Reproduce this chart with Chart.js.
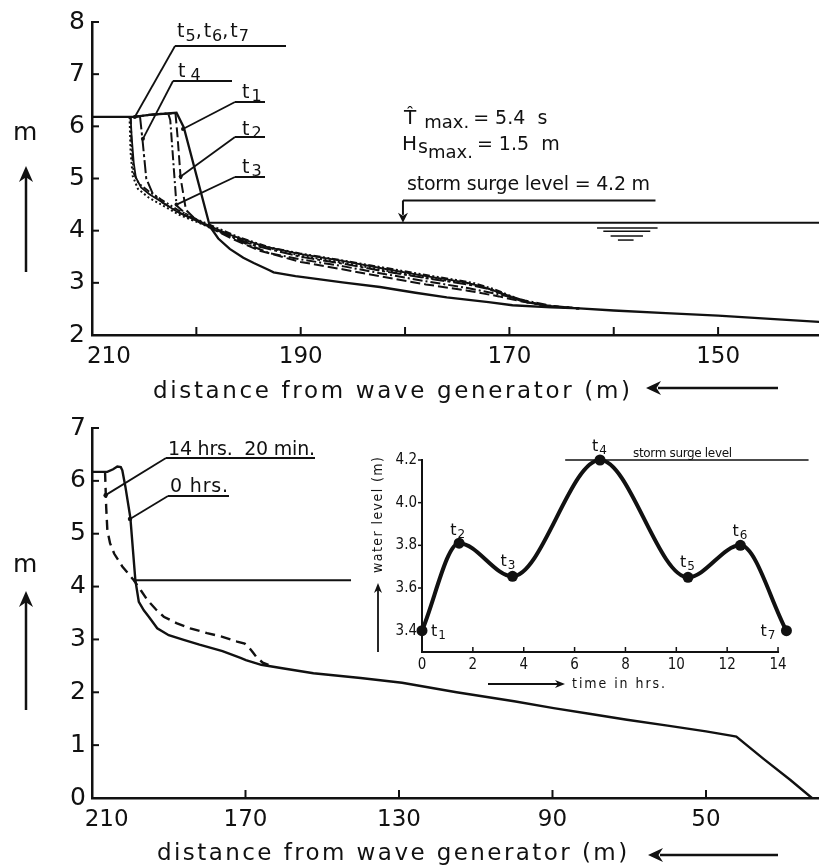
<!DOCTYPE html>
<html>
<head>
<meta charset="utf-8">
<title>Dune erosion profiles</title>
<script src="https://cdn.jsdelivr.net/npm/chart.js@4.4.1/dist/chart.umd.min.js"></script>
<style>
  html, body { margin:0; padding:0; background:#fff; }
  #wrap { position:relative; width:819px; height:867px; overflow:hidden; background:#fff; }
  canvas { position:absolute; }
</style>
</head>
<body>
<div id="wrap">
  <canvas id="topChart" width="819" height="420" style="left:0;top:0"></canvas>
  <canvas id="bottomChart" width="819" height="467" style="left:0;top:400px"></canvas>
  <canvas id="insetChart" width="459" height="280" style="left:360px;top:430px"></canvas>
</div>
<script>
// ================= DATA =================
// Top panel: profiles t1..t7 (distance from wave generator [m], level [m])
const topXTicks = [150, 160, 170, 180, 190, 200, 210];
const topXTickLabels = ['150', '', '170', '', '190', '', '\u2007\u2007\u2009210'];
const topYTicks = [2, 3, 4, 5, 6, 7, 8];

const t1X = [210, 206.0, 204.5, 201.9, 201.2, 198.7, 197.9, 196.8, 195.5, 194.5, 193.0, 192.6, 190.5, 189.4, 186.0, 182.4, 179.0, 176.0, 172.0, 169.7, 166.0, 163.3, 160.0, 155.0, 150.0, 145.0, 140.3];
const t1Y = [6.18, 6.18, 6.22, 6.26, 5.98, 4.08, 3.85, 3.65, 3.48, 3.38, 3.24, 3.20, 3.13, 3.10, 3.01, 2.92, 2.81, 2.72, 2.63, 2.57, 2.53, 2.51, 2.47, 2.42, 2.37, 2.31, 2.25];

const t2X = [206.0, 204.5, 202.0, 201.8, 201.5, 201.0, 200.2, 198.8, 196.5, 194.0, 190.0, 186.0, 182.0, 178.0, 174.0, 171.0, 168.5, 166.0, 163.3];
const t2Y = [6.18, 6.22, 6.25, 5.80, 5.00, 4.40, 4.24, 4.07, 3.84, 3.62, 3.40, 3.26, 3.11, 2.97, 2.85, 2.74, 2.63, 2.55, 2.51];

const t3X = [206.0, 204.5, 202.7, 202.5, 202.2, 201.9, 200.8, 199.5, 197.5, 195.5, 193.0, 190.0, 186.0, 182.0, 178.0, 174.0, 171.0, 168.5, 166.0, 163.3];
const t3Y = [6.18, 6.22, 6.25, 6.12, 5.30, 4.48, 4.29, 4.16, 3.96, 3.77, 3.57, 3.45, 3.32, 3.17, 3.03, 2.90, 2.78, 2.66, 2.56, 2.51];

const t4X = [205.4, 205.15, 204.8, 204.2, 203.2, 201.5, 199.5, 197.0, 194.5, 190.0, 186.0, 182.0, 178.0, 174.0, 172.0, 170.0, 168.3, 166.0, 163.3];
const t4Y = [6.19, 5.72, 5.00, 4.72, 4.53, 4.33, 4.14, 3.92, 3.72, 3.50, 3.37, 3.22, 3.09, 2.97, 2.88, 2.74, 2.63, 2.55, 2.51];

const t5X = [206.3, 206.2, 206.0, 205.8, 205.3, 204.5, 203.3, 201.8, 200.3, 198.5, 196.5, 193.5, 190.0, 186.0, 182.0, 178.0, 174.2, 172.5, 170.5, 169.0, 166.0, 163.3];
const t5Y = [6.18, 5.80, 5.30, 5.02, 4.83, 4.70, 4.55, 4.36, 4.22, 4.07, 3.90, 3.70, 3.55, 3.42, 3.27, 3.13, 3.01, 2.92, 2.78, 2.66, 2.55, 2.51];

const t6X = [206.4, 206.3, 206.1, 205.6, 204.6, 203.2, 201.5, 199.5, 197.5, 195.0, 190.0, 186.0, 182.0, 178.0, 174.0, 172.0, 170.0, 168.5, 166.0, 163.3];
const t6Y = [6.18, 5.50, 5.05, 4.80, 4.64, 4.48, 4.29, 4.13, 3.95, 3.77, 3.52, 3.39, 3.24, 3.10, 2.99, 2.89, 2.75, 2.63, 2.55, 2.51];

const t7X = [206.3, 206.2, 206.0, 205.5, 204.6, 203.4, 201.8, 200.0, 198.0, 196.0, 193.0, 190.0, 186.0, 182.0, 178.0, 175.0, 173.5, 171.5, 169.5, 168.0, 166.0, 163.3];
const t7Y = [6.18, 5.60, 5.10, 4.90, 4.76, 4.60, 4.40, 4.22, 4.05, 3.88, 3.68, 3.56, 3.43, 3.29, 3.15, 3.05, 3.00, 2.88, 2.72, 2.62, 2.55, 2.51];

const surgeTop = 4.15;

// Bottom panel: initial (0 hrs.) and final (14 hrs. 20 min.) profiles
const botXTicks = [50, 90, 130, 170, 210];
const botXTickLabels = ['50', '90', '130', '170', '\u2007\u2007210'];
const botYTicks = [0, 1, 2, 3, 4, 5, 6, 7];

const b0X = [210, 206.0, 204.5, 203.4, 202.5, 202.1, 201.3, 200.0, 198.7, 197.8, 196.5, 195.2, 193.0, 190.0, 186.1, 182.0, 176.0, 171.3, 169.9, 165.9, 160.0, 152.3, 140.0, 129.2, 115.0, 100.0, 89.7, 80.0, 70.6, 60.0, 50.0, 43.5, 42.1, 35.0, 28.0, 22.4];
const b0Y = [6.17, 6.17, 6.22, 6.27, 6.26, 6.20, 5.89, 5.30, 4.12, 3.71, 3.55, 3.43, 3.21, 3.08, 2.99, 2.90, 2.78, 2.65, 2.61, 2.52, 2.45, 2.36, 2.27, 2.18, 2.00, 1.83, 1.70, 1.59, 1.48, 1.37, 1.26, 1.18, 1.16, 0.74, 0.34, 0.00];

const b14X = [206.6, 206.5, 206.3, 206.0, 205.3, 204.2, 202.1, 199.1, 197.2, 195.6, 193.5, 191.3, 188.0, 184.4, 180.0, 176.0, 172.2, 170.2, 169.0, 167.9, 167.2, 165.5, 164.0];
const b14Y = [6.17, 5.95, 5.50, 5.07, 4.82, 4.62, 4.38, 4.12, 3.92, 3.75, 3.58, 3.43, 3.31, 3.21, 3.12, 3.05, 2.96, 2.92, 2.84, 2.74, 2.67, 2.56, 2.52];

const surgeBot = 4.12;

// Inset: water level vs time
const insetHours = [0, 1.46, 3.56, 7.0, 10.46, 12.52, 14.33];
const insetLevel = [3.40, 3.81, 3.655, 4.20, 3.65, 3.80, 3.40];
const insetNames = ['1', '2', '3', '4', '5', '6', '7'];
const insetXTicks = [0, 2, 4, 6, 8, 10, 12, 14];
const insetXTickLabels = ['0', '2', '4', '6', '8', '10', '12', '14'];
const insetYTicks = [3.4, 3.6, 3.8, 4.0, 4.2];
const insetYTickLabels = ['3.4', '3.6', '3.8', '4.0', '4.2'];
const insetSurge = 4.2;

// ================= HELPERS =================
const INK = '#111';
const SANS = "'DejaVu Sans', sans-serif";
const COND = "'DejaVu Sans Condensed', 'DejaVu Sans', sans-serif";

function pts(xs, ys) { return xs.map((x, i) => ({ x: x, y: ys[i] })); }

function seg(ctx, x1, y1, x2, y2, w) {
  ctx.save(); ctx.strokeStyle = INK; ctx.lineWidth = w || 2; ctx.setLineDash([]);
  ctx.lineCap = 'butt';
  ctx.beginPath(); ctx.moveTo(x1, y1); ctx.lineTo(x2, y2); ctx.stroke(); ctx.restore();
}
function head(ctx, tx, ty, dx, dy, len, half) {
  const nx = -dy, ny = dx;
  ctx.save(); ctx.fillStyle = INK; ctx.beginPath();
  ctx.moveTo(tx, ty);
  ctx.lineTo(tx - dx * len + nx * half, ty - dy * len + ny * half);
  ctx.lineTo(tx - dx * len * 0.7, ty - dy * len * 0.7);
  ctx.lineTo(tx - dx * len - nx * half, ty - dy * len - ny * half);
  ctx.closePath(); ctx.fill(); ctx.restore();
}
function fitText(ctx, text, x, y, width, font) {
  ctx.save(); ctx.font = font; ctx.fillStyle = INK; ctx.textAlign = 'left'; ctx.textBaseline = 'alphabetic';
  const w = ctx.measureText(text).width;
  if ('letterSpacing' in ctx && text.length > 1) {
    ctx.letterSpacing = ((width - w) / (text.length - 1)).toFixed(2) + 'px';
    ctx.fillText(text, x, y);
  } else {
    ctx.translate(x, y); ctx.scale(width / w, 1); ctx.fillText(text, 0, 0);
  }
  ctx.restore();
}
function runs(ctx, x, y, list) {
  ctx.save(); ctx.fillStyle = INK; ctx.textAlign = 'left'; ctx.textBaseline = 'alphabetic';
  let cx = x;
  list.forEach(r => {
    ctx.font = r.size + 'px ' + (r.family || SANS);
    ctx.fillText(r.t, cx, y + (r.dy || 0));
    cx += ctx.measureText(r.t).width + (r.gap || 0);
  });
  ctx.restore();
}
function tLabel(ctx, x, y, sub, main, subSize, drop, gap) {
  runs(ctx, x, y, [{ t: 't', size: main, gap: gap || 1 }, { t: sub, size: subSize, dy: drop }]);
}

// ================= TOP CHART =================
const topDecor = {
  id: 'topDecor',
  afterDraw(chart) {
    const ctx = chart.ctx, xs = chart.scales.x, ys = chart.scales.y, a = chart.chartArea;
    const X = v => xs.getPixelForValue(v), Y = v => ys.getPixelForValue(v);
    // inward ticks
    topXTicks.forEach(v => { if (v !== 210) seg(ctx, X(v), a.bottom, X(v), a.bottom - 8, 2); });
    topYTicks.forEach(v => seg(ctx, a.left, Y(v), a.left + 7, Y(v), 2));
    // storm surge level
    seg(ctx, X(198.7), Y(surgeTop), a.right, Y(surgeTop), 2);
    const bx = X(180.2), by = Y(4.58);
    seg(ctx, bx, by, X(156.0), by, 2);
    seg(ctx, bx, by, bx, Y(surgeTop) - 8, 2);
    head(ctx, bx, Y(surgeTop), 0, 1, 10, 5);
    // water symbol
    seg(ctx, X(161.6), Y(4.05), X(155.8), Y(4.05), 1.5);
    seg(ctx, X(161.0), Y(3.99), X(156.5), Y(3.99), 1.5);
    seg(ctx, X(160.3), Y(3.90), X(157.2), Y(3.90), 1.5);
    seg(ctx, X(159.6), Y(3.82), X(158.1), Y(3.82), 1.5);
    // leaders
    const leaders = [
      { u: [175, 286, 46], to: [205.9, 6.18] },
      { u: [173, 232, 81], to: [205.12, 5.76] },
      { u: [235, 265, 102], to: [201.28, 5.95] },
      { u: [235, 265, 137], to: [201.5, 5.04] },
      { u: [235, 265, 177], to: [201.9, 4.50] }
    ];
    leaders.forEach(l => {
      seg(ctx, l.u[0], l.u[2], l.u[1], l.u[2], 2);
      seg(ctx, l.u[0], l.u[2], X(l.to[0]), Y(l.to[1]), 1.8);
      ctx.save(); ctx.fillStyle = INK; ctx.beginPath(); ctx.arc(X(l.to[0]), Y(l.to[1]), 2, 0, 2 * Math.PI); ctx.fill(); ctx.restore();
    });
    runs(ctx, 177, 37, [
      { t: 't', size: 19, gap: 1 }, { t: '5', size: 16, dy: 4 }, { t: ',', size: 19, gap: 2 },
      { t: 't', size: 19, gap: 1 }, { t: '6', size: 16, dy: 4 }, { t: ',', size: 19, gap: 2 },
      { t: 't', size: 19, gap: 1 }, { t: '7', size: 16, dy: 4 }
    ]);
    tLabel(ctx, 178, 77, '4', 19, 16, 3, 5);
    tLabel(ctx, 242, 98, '1', 19, 16, 3, 2);
    tLabel(ctx, 242, 135, '2', 19, 16, 3, 2);
    tLabel(ctx, 242, 173, '3', 19, 16, 3, 2);
    // wave parameters
    runs(ctx, 404, 124, [{ t: 'T\u0302', size: 20, gap: 8 }, { t: 'max.', size: 18, dy: 4, gap: 4 }, { t: '= 5.4  s', size: 19 }]);
    runs(ctx, 402, 150, [{ t: 'H', size: 20, gap: 1 }, { t: 's', size: 19, dy: 3 }, { t: 'max.', size: 18, dy: 8, gap: 4 }, { t: '= 1.5  m', size: 19 }]);
    fitText(ctx, 'storm surge level = 4.2 m', 407, 190, 243, '19px ' + SANS);
    // axis titles
    fitText(ctx, 'distance from wave generator (m)', 153, 398, 477, '23px ' + SANS);
    seg(ctx, 658, 388, 778, 388, 2.5);
    head(ctx, 646, 388, -1, 0, 15, 7);
    runs(ctx, 13, 140, [{ t: 'm', size: 25 }]);
    seg(ctx, 26, 272, 26, 176, 2.5);
    head(ctx, 26, 166, 0, -1, 16, 7);
  }
};

function profile(xs, ys, dash, w) {
  return { data: pts(xs, ys), showLine: true, borderColor: INK, borderWidth: w || 2,
           borderDash: dash, pointRadius: 0, fill: false, tension: 0 };
}

new Chart(document.getElementById('topChart'), {
  type: 'scatter',
  data: { datasets: [
    profile(t1X, t1Y, [], 2.3),
    profile(t2X, t2Y, [10, 4], 2),
    profile(t3X, t3Y, [10, 3, 2, 3], 2),
    profile(t4X, t4Y, [13, 3, 3, 3], 2),
    profile(t5X, t5Y, [], 1.8),
    profile(t6X, t6Y, [2, 2.5], 2),
    profile(t7X, t7Y, [7, 2.5, 2, 2.5, 2, 2.5], 2)
  ] },
  options: {
    responsive: false, animation: false, events: [],
    layout: { padding: { top: 19, right: 0, left: 0, bottom: 0 } },
    plugins: { legend: { display: false }, tooltip: { enabled: false } },
    scales: {
      x: {
        type: 'linear', reverse: true, min: 140.33, max: 210,
        grid: { display: false, drawTicks: false },
        border: { display: true, color: INK, width: 2.5 },
        afterBuildTicks: s => { s.ticks = topXTicks.map(v => ({ value: v })); },
        afterFit: s => { s.height = 85; },
        ticks: { callback: (v, i) => topXTickLabels[i], color: INK, padding: 8, maxRotation: 0, autoSkip: false,
                 font: { family: SANS, size: 23 } }
      },
      y: {
        type: 'linear', min: 2, max: 8,
        grid: { display: false, drawTicks: false },
        border: { display: true, color: INK, width: 2.5 },
        afterBuildTicks: s => { s.ticks = topYTicks.map(v => ({ value: v })); },
        afterFit: s => { s.width = 92; },
        ticks: { callback: v => String(v), color: INK, padding: 7, font: { family: SANS, size: 25 } }
      }
    }
  },
  plugins: [topDecor]
});

// ================= BOTTOM CHART =================
const botDecor = {
  id: 'botDecor',
  afterDraw(chart) {
    const ctx = chart.ctx, xs = chart.scales.x, ys = chart.scales.y, a = chart.chartArea;
    const X = v => xs.getPixelForValue(v), Y = v => ys.getPixelForValue(v);
    botXTicks.forEach(v => { if (v !== 210) seg(ctx, X(v), a.bottom, X(v), a.bottom - 8, 2); });
    botYTicks.forEach(v => seg(ctx, a.left, Y(v), a.left + 7, Y(v), 2));
    seg(ctx, X(199.2), Y(surgeBot), X(142.5), Y(surgeBot), 2);
    // labels
    fitText(ctx, '14 hrs.  20 min.', 168, 55, 147, '19px ' + SANS);
    seg(ctx, 166, 58, 315, 58, 2);
    seg(ctx, 166, 58, X(206.45), Y(5.73), 1.8);
    fitText(ctx, '0 hrs.', 170, 92, 58, '19px ' + SANS);
    seg(ctx, 168, 96, 229, 96, 2);
    seg(ctx, 168, 96, X(200.1), Y(5.28), 1.8);
    [[206.45, 5.73], [200.1, 5.28]].forEach(p => {
      ctx.save(); ctx.fillStyle = INK; ctx.beginPath(); ctx.arc(X(p[0]), Y(p[1]), 2.2, 0, 2 * Math.PI); ctx.fill(); ctx.restore();
    });
    // axis titles
    fitText(ctx, 'distance from wave generator (m)', 157, 460, 470, '23px ' + SANS);
    seg(ctx, 660, 455, 778, 455, 2.5);
    head(ctx, 648, 455, -1, 0, 15, 7);
    runs(ctx, 13, 172, [{ t: 'm', size: 25 }]);
    seg(ctx, 26, 310, 26, 202, 2.5);
    head(ctx, 26, 191, 0, -1, 16, 7);
  }
};

new Chart(document.getElementById('bottomChart'), {
  type: 'scatter',
  data: { datasets: [
    profile(b0X, b0Y, [], 2.4),
    profile(b14X, b14Y, [10, 6], 2.4)
  ] },
  options: {
    responsive: false, animation: false, events: [],
    layout: { padding: { top: 28, right: 0, left: 0, bottom: 0 } },
    plugins: { legend: { display: false }, tooltip: { enabled: false } },
    scales: {
      x: {
        type: 'linear', reverse: true, min: 20.55, max: 210,
        grid: { display: false, drawTicks: false },
        border: { display: true, color: INK, width: 2.5 },
        afterBuildTicks: s => { s.ticks = botXTicks.map(v => ({ value: v })); },
        afterFit: s => { s.height = 69; },
        ticks: { callback: (v, i) => botXTickLabels[i], color: INK, padding: 8, maxRotation: 0, autoSkip: false,
                 font: { family: SANS, size: 23 } }
      },
      y: {
        type: 'linear', min: 0, max: 7,
        grid: { display: false, drawTicks: false },
        border: { display: true, color: INK, width: 2.5 },
        afterBuildTicks: s => { s.ticks = botYTicks.map(v => ({ value: v })); },
        afterFit: s => { s.width = 92; },
        ticks: { callback: v => String(v), color: INK, padding: 6, font: { family: SANS, size: 25 } }
      }
    }
  },
  plugins: [botDecor]
});

// ================= INSET CHART =================
const insetLabelOffsets = [[9, 5], [-9, -8], [-12, -10], [-8, -9], [-8, -10], [-8, -9], [-26, 5]];
const insetDecor = {
  id: 'insetDecor',
  afterDraw(chart) {
    const ctx = chart.ctx, xs = chart.scales.x, ys = chart.scales.y, a = chart.chartArea;
    const X = v => xs.getPixelForValue(v), Y = v => ys.getPixelForValue(v);
    // x axis line (0 .. 14 h)
    seg(ctx, X(0) - 1, a.bottom, X(14) + 1, a.bottom, 2);
    insetXTicks.forEach(v => { if (v !== 0) seg(ctx, X(v), a.bottom, X(v), a.bottom - 5, 1.5); });
    insetYTicks.forEach(v => seg(ctx, a.left - 4, Y(v), a.left, Y(v), 1.5));
    seg(ctx, X(5.63), Y(insetSurge), X(15.2), Y(insetSurge), 1.5);
    fitText(ctx, 'storm surge level', 273, 27, 99, '12px ' + SANS);
    insetHours.forEach((h, i) => {
      const o = insetLabelOffsets[i];
      tLabel(ctx, X(h) + o[0], Y(insetLevel[i]) + o[1], insetNames[i], 16, 12, 3, 1);
    });
    ctx.save(); ctx.translate(22, 143); ctx.rotate(-Math.PI / 2);
    fitText(ctx, 'water level (m)', 0, 0, 116, '14px ' + COND);
    ctx.restore();
    seg(ctx, 18, 222, 18, 160, 1.8);
    head(ctx, 18, 153, 0, -1, 10, 4);
    seg(ctx, 128, 254, 198, 254, 1.8);
    head(ctx, 205, 254, 1, 0, 10, 4);
    fitText(ctx, 'time in hrs.', 212, 258, 93, '14px ' + COND);
  }
};

new Chart(document.getElementById('insetChart'), {
  type: 'scatter',
  data: { datasets: [{
    data: pts(insetHours, insetLevel), showLine: true, borderColor: INK, borderWidth: 4,
    pointRadius: 5.5, pointBackgroundColor: INK, pointBorderColor: INK, pointBorderWidth: 0,
    cubicInterpolationMode: 'monotone', clip: false, fill: false
  }] },
  options: {
    responsive: false, animation: false, events: [],
    layout: { padding: { top: 30, right: 25.7, left: 0, bottom: 0 } },
    plugins: { legend: { display: false }, tooltip: { enabled: false } },
    scales: {
      x: {
        type: 'linear', min: 0, max: 14.6,
        grid: { display: false, drawTicks: false },
        border: { display: false },
        afterBuildTicks: s => { s.ticks = insetXTicks.map(v => ({ value: v })); },
        afterFit: s => { s.height = 58; },
        ticks: { callback: (v, i) => insetXTickLabels[i], color: INK, padding: 4, maxRotation: 0, autoSkip: false,
                 font: { family: COND, size: 15 } }
      },
      y: {
        type: 'linear', min: 3.3, max: 4.2,
        grid: { display: false, drawTicks: false },
        border: { display: true, color: INK, width: 2 },
        afterBuildTicks: s => { s.ticks = insetYTicks.map(v => ({ value: v })); },
        afterFit: s => { s.width = 62; },
        ticks: { callback: (v, i) => insetYTickLabels[i], color: INK, padding: 5, font: { family: COND, size: 15 } }
      }
    }
  },
  plugins: [insetDecor]
});
</script>
</body>
</html>
